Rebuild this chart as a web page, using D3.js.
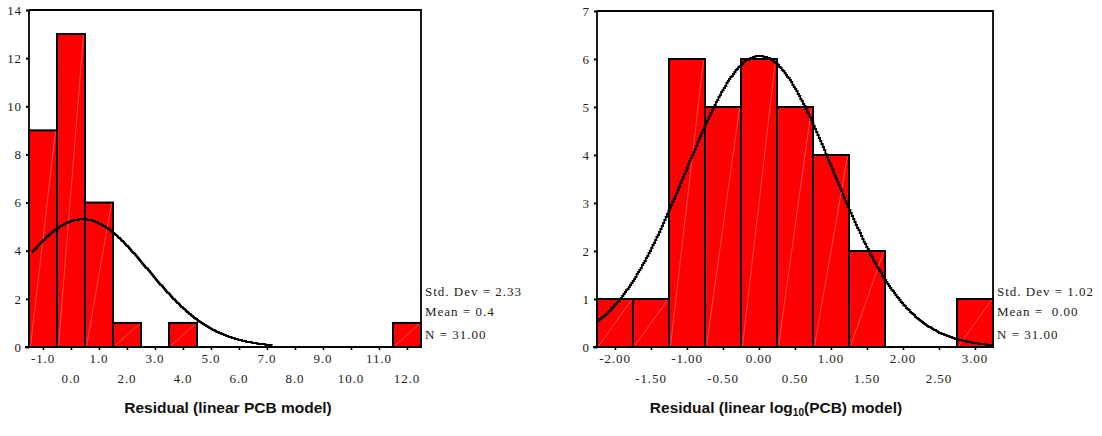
<!DOCTYPE html>
<html>
<head>
<meta charset="utf-8">
<script src="https://cdn.jsdelivr.net/npm/d3@7"></script>
<style>
  html, body { margin: 0; padding: 0; background: #fff; }
  svg { display: block; }
  .tick-label { font-family: "Liberation Serif", "Times New Roman", serif; font-size: 13px; letter-spacing: 0.9px; fill: #222; }
  .stat { font-family: "Liberation Serif", "Times New Roman", serif; font-size: 13px; letter-spacing: 1px; fill: #222; white-space: pre; }
  .title { font-family: "Liberation Sans", Arial, sans-serif; font-size: 15.5px; font-weight: bold; fill: #111; }
</style>
</head>
<body>
<svg id="chart" width="1102" height="436"></svg>
<script>
// Histogram of residuals, linear PCB model (bins of width 1.0)
const linearBins   = [-1, 0, 1, 2, 3, 4, 5, 6, 7, 8, 9, 10, 11, 12];
const linearCounts = [ 9, 13, 6, 1, 0, 1, 0, 0, 0, 0, 0, 0, 0, 1];
const linearTicksRow1 = ["-1.0", "1.0", "3.0", "5.0", "7.0", "9.0", "11.0"];
const linearTicksRow2 = ["0.0", "2.0", "4.0", "6.0", "8.0", "10.0", "12.0"];
const linearYTicks = [0, 2, 4, 6, 8, 10, 12, 14];
const linearStats = { sd: 2.33, mean: 0.4, n: 31, meanText: "0.4", sdText: "2.33", nText: "31.00" };

// Histogram of residuals, linear log10(PCB) model (bins of width 0.5)
const logBins   = [-2.0, -1.5, -1.0, -0.5, 0.0, 0.5, 1.0, 1.5, 2.0, 2.5, 3.0];
const logCounts = [   1,    1,    6,    5,   6,   5,   4,   2,   0,   0,   1];
const logTicksRow1 = ["-2.00", "-1.00", "0.00", "1.00", "2.00", "3.00"];
const logTicksRow2 = ["-1.50", "-0.50", "0.50", "1.50", "2.50"];
const logYTicks = [0, 1, 2, 3, 4, 5, 6, 7];
const logStats = { sd: 1.02, mean: 0.0, n: 31, meanText: " 0.00", sdText: "1.02", nText: "31.00" };

const svg = d3.select("#chart");

function histogram(cfg) {
  const g = svg.append("g");
  const x = d3.scaleLinear().domain(cfg.xDomain).range([cfg.left, cfg.right]);
  const y = d3.scaleLinear().domain(cfg.yDomain).range([cfg.bottom, cfg.top]);
  const half = cfg.binWidth / 2;

  // bars
  const data = cfg.bins.map((b, i) => ({ b, c: cfg.counts[i] })).filter(d => d.c > 0);
  g.selectAll("rect.bar").data(data).join("rect")
    .attr("class", "bar")
    .attr("x", d => x(d.b - half))
    .attr("y", d => y(d.c))
    .attr("width", d => x(d.b + half) - x(d.b - half))
    .attr("height", d => y(0) - y(d.c))
    .attr("fill", "#ff0000")
    .attr("stroke", "#000")
    .attr("stroke-width", 2);

  // faint diagonal sheen inside each bar
  g.selectAll("line.sheen").data(data).join("line")
    .attr("class", "sheen")
    .attr("x1", d => x(d.b - half) + 1.5)
    .attr("y1", y(0) - 1)
    .attr("x2", d => x(d.b + half) - 1.5)
    .attr("y2", d => y(d.c) + 1)
    .attr("stroke", "#ffa0a0")
    .attr("stroke-width", 0.6)
    .attr("opacity", 0.8);

  // fitted normal curve from the stated mean, SD and N
  const s = cfg.stats;
  const dens = v => s.n * cfg.binWidth / (s.sd * Math.sqrt(2 * Math.PI)) *
    Math.exp(-0.5 * Math.pow((v - s.mean) / s.sd, 2));
  const pts = d3.range(cfg.curveFrom, cfg.curveTo + 1e-9, (cfg.curveTo - cfg.curveFrom) / 300);
  g.append("path")
    .datum(pts)
    .attr("fill", "none")
    .attr("stroke", "#000")
    .attr("stroke-width", 1.8)
    .attr("d", d3.line().x(v => x(v)).y(v => Math.round(y(dens(v)))).curve(d3.curveStepAfter));

  // frame: top and right edges
  g.append("path")
    .attr("d", `M${cfg.left},${cfg.top}H${cfg.right}V${cfg.bottom}`)
    .attr("fill", "none").attr("stroke", "#000").attr("stroke-width", 1.8);

  // left axis
  const yAxis = d3.axisLeft(y).tickValues(cfg.yTicks).tickSize(3).tickPadding(4).tickFormat(d3.format("d"));
  const ya = g.append("g").attr("transform", `translate(${cfg.left},0)`).call(yAxis);
  ya.select(".domain").attr("stroke-width", 1.8).attr("d", `M0,${cfg.top}V${cfg.bottom}`);
  ya.selectAll(".tick line").attr("stroke-width", 2);
  ya.selectAll(".tick text").attr("class", "tick-label").attr("font-family", null).attr("font-size", null);

  // bottom axis with two staggered label rows
  const xAxis = d3.axisBottom(x).tickValues(cfg.bins).tickSize(3).tickFormat("");
  const xa = g.append("g").attr("transform", `translate(0,${cfg.bottom})`).call(xAxis);
  xa.select(".domain").attr("stroke-width", 1.8).attr("d", `M${cfg.left - 4},0H${cfg.right}`);
  xa.selectAll(".tick line").attr("stroke-width", 1.6);

  const row1 = cfg.row1.map(t => ({ t, v: +t }));
  const row2 = cfg.row2.map(t => ({ t, v: +t }));
  g.selectAll("text.r1").data(row1).join("text")
    .attr("class", "tick-label")
    .attr("x", d => x(d.v)).attr("y", cfg.bottom + 16)
    .attr("text-anchor", "middle").text(d => d.t);
  g.selectAll("text.r2").data(row2).join("text")
    .attr("class", "tick-label")
    .attr("x", d => x(d.v)).attr("y", cfg.bottom + 36)
    .attr("text-anchor", "middle").text(d => d.t);

  // summary statistics
  const lines = [`Std. Dev = ${s.sdText}`, `Mean = ${s.meanText}`, `N = ${s.nText}`];
  g.selectAll("text.stat").data(lines).join("text")
    .attr("class", "stat")
    .attr("x", cfg.right + 4)
    .attr("y", (d, i) => cfg.bottom - 51 + [0, 20, 43][i])
    .text(d => d);

  return g;
}

histogram({
  bins: linearBins, counts: linearCounts, binWidth: 1,
  xDomain: [-1.5, 12.5], yDomain: [0, 14],
  left: 29, right: 421, top: 10, bottom: 347,
  yTicks: linearYTicks, row1: linearTicksRow1, row2: linearTicksRow2,
  stats: linearStats, curveFrom: -1.4, curveTo: 7.2
});

histogram({
  bins: logBins, counts: logCounts, binWidth: 0.5,
  xDomain: [-2.25, 3.25], yDomain: [0, 7],
  left: 597, right: 993, top: 11, bottom: 347,
  yTicks: logYTicks, row1: logTicksRow1, row2: logTicksRow2,
  stats: logStats, curveFrom: -2.25, curveTo: 3.25
});

// axis titles
svg.append("text").attr("class", "title")
  .attr("x", 228).attr("y", 413).attr("text-anchor", "middle")
  .text("Residual (linear PCB model)");

const t2 = svg.append("text").attr("class", "title")
  .attr("x", 776).attr("y", 413).attr("text-anchor", "middle");
t2.append("tspan").text("Residual (linear log");
t2.append("tspan").attr("font-size", "10px").attr("dy", 3).text("10");
t2.append("tspan").attr("dy", -3).text("(PCB) model)");
</script>
</body>
</html>
